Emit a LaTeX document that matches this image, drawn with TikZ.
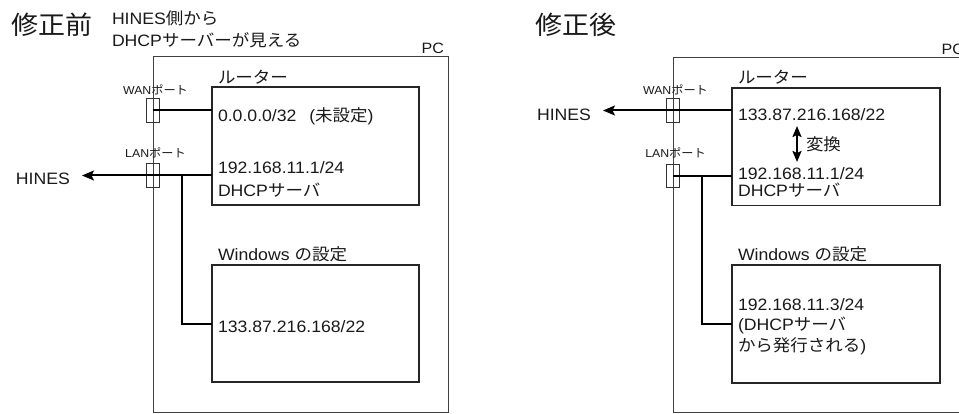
\documentclass[tikz,border=0pt]{standalone}
\usepackage{fontspec}
\setmainfont{Liberation Sans}[FakeStretch=1.07]
\newfontfamily\jp{Noto Sans CJK JP}[FakeStretch=1.06]
\usetikzlibrary{arrows.meta}
\AtBeginDocument{\lineskiplimit=-100pt\relax}
\begin{document}
\begin{tikzpicture}[x=1pt,y=-1pt,
  txt/.style={inner sep=0pt, outer sep=0pt, align=left, text=black!90},
  fs/.style={font={\fontsize{16.5}{#1}\selectfont}},
  fs/.default=20,
  small/.style={inner sep=0pt, text=black!90, font={\fontsize{11.5}{14}\selectfont}},
  title/.style={inner sep=0pt, text=black!90, font={\jp\fontsize{25.5}{30}\selectfont}},
  pcbox/.style={draw=black!75, line width=1pt, inner sep=0pt, outer sep=0pt},
  inbox/.style={draw=black!85, line width=1.4pt, inner sep=0pt, outer sep=0pt},
  portbox/.style={draw=black!80, line width=0.9pt, inner sep=0pt, outer sep=0pt,
    minimum width=13pt, minimum height=23.5pt},
  conn/.style={line width=2pt, black},
  tipl/.style={-{Stealth[length=12pt,width=10pt,inset=2.5pt]}},
  dbl/.style={{Stealth[length=11pt,width=9pt,inset=2pt]}-{Stealth[length=11pt,width=9pt,inset=2pt]}}
]
\useasboundingbox (0,0) rectangle (959,414);
\clip (0,0) rectangle (959,414);

% ===== left: before =====
\node[title, anchor=base] (t1) at (52,34.5) {修正前};
\node[txt, fs=21.7, anchor=base west] (note1) at (112,46.7) {HINES{\jp 側から}\\DHCP{\jp サーバーが見える}};
\node[pcbox, minimum width=295pt, minimum height=355pt] (pc1) at (300.5,234.5) {};
\node[txt, anchor=base east, font={\fontsize{15}{18}\selectfont}] (pcl1) at (444,54) {PC};
\node[txt, fs, anchor=base west] (rl1) at (218,84) {\jp ルーター};
\node[inbox, minimum width=207pt, minimum height=118pt] (r1) at (315.5,146) {};
\node[portbox] (wp1) at (152.5,110.5) {};
\node[small, anchor=base] (wanl1) at (155.5,94.5) {WAN{\jp ポート}};
\node[portbox] (lp1) at (152.5,175.5) {};
\node[small, anchor=base] (lanl1) at (155.5,158) {LAN{\jp ポート}};
\node[txt, fs, anchor=base west] (ra1) at (218,121.5) {0.0.0.0/32\ \ \hspace{3pt}({\jp 未設定})};
\node[txt, fs=23.4, anchor=base west] (rb1) at (218,196.7) {192.168.11.1/24\\DHCP{\jp サーバ}};
\node[txt, fs, anchor=base west] (hl1) at (16,184.5) {HINES};
\coordinate (tip1) at (82,175.5);
\coordinate (b1) at (182,175.5);
\node[txt, fs, anchor=base west] (winl1) at (218,260.7) {Windows {\jp の設定}};
\node[inbox, minimum width=207pt, minimum height=117pt] (w1) at (315.5,323.5) {};
\node[txt, fs, anchor=base west] (wt1) at (218,332.7) {133.87.216.168/22};

\draw[conn] (wp1.center) -- (r1.west |- wp1.center);
\draw[conn, tipl] (r1.west |- lp1.center) -- (tip1);
\draw[conn] (b1) |- (w1.west);

% ===== right: after =====
\node[title, anchor=base] (t2) at (576,34.5) {修正後};
\node[pcbox, minimum width=295pt, minimum height=354pt] (pc2) at (820.5,235) {};
\node[txt, anchor=base east, font={\fontsize{15}{18}\selectfont}] (pcl2) at (964,55) {PC};
\node[txt, fs, anchor=base west] (rl2) at (738,84) {\jp ルーター};
\node[inbox, minimum width=208pt, minimum height=117.5pt] (r2) at (836,146.75) {};
\node[portbox, minimum height=24pt] (wp2) at (673,110.5) {};
\node[small, anchor=base] (wanl2) at (675.5,94.5) {WAN{\jp ポート}};
\node[portbox] (lp2) at (673,176) {};
\node[small, anchor=base] (lanl2) at (675.5,158) {LAN{\jp ポート}};
\node[txt, fs, anchor=base west] (hl2) at (537,120.5) {HINES};
\coordinate (tip2) at (603,110.5);
\node[txt, fs, anchor=base west] (ra2) at (738,120.7) {133.87.216.168/22};
\coordinate (a1) at (797,126);
\coordinate (a2) at (797,162);
\node[txt, fs, anchor=base west] (cv) at (806,150.5) {\jp 変換};
\node[txt, fs=17, anchor=base west] (rb2) at (738,197) {192.168.11.1/24\\DHCP{\jp サーバ}};
\coordinate (b2) at (702,176);
\node[txt, fs, anchor=base west] (winl2) at (738,261) {Windows {\jp の設定}};
\node[inbox, minimum width=208pt, minimum height=118pt] (w2) at (836,324) {};
\node[txt, fs=20.5, anchor=base west] (wt2) at (738,351) {192.168.11.3/24\\(DHCP{\jp サーバ}\\{\jp から発行される})};

\draw[conn, tipl] (r2.west |- wp2.center) -- (tip2);
\draw[conn, dbl] (a1) -- (a2);
\draw[conn] (lp2.center) -- (r2.west |- lp2.center);
\draw[conn] (b2) |- (w2.west);
\end{tikzpicture}
\end{document}
